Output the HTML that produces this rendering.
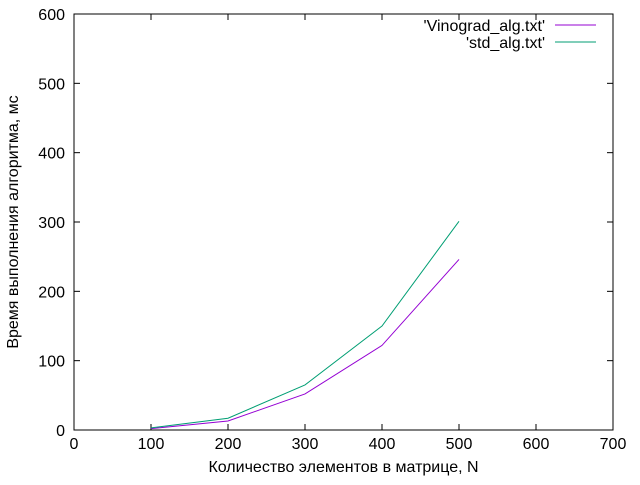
<!DOCTYPE html>
<html><head><meta charset="utf-8"><style>
body{margin:0;background:#fff}
svg text{font-family:"Liberation Sans",sans-serif;font-size:16px;fill:#000}
</style></head><body>
<svg id="chart" width="640" height="480" xmlns="http://www.w3.org/2000/svg"></svg>
<script>
const xTicks=[0,100,200,300,400,500,600,700];
const yTicks=[0,100,200,300,400,500,600];
const nValues=[100,200,300,400,500];
const vinogradValues=[2,13,52,122,246];
const stdValues=[3,17,65,150,301];
const L=74,R=613,T=14,B=430;
const sx=v=>L+(v-0)/700*(R-L);
const sy=v=>B-(v-0)/600*(B-T);
const svg=document.getElementById('chart');
const NS='http://www.w3.org/2000/svg';
function mk(tag,attrs,parent){const e=document.createElementNS(NS,tag);for(const k in attrs)e.setAttribute(k,attrs[k]);(parent||svg).appendChild(e);return e;}
const frame=mk('rect',{x:L,y:T,width:R-L,height:B-T,fill:'none',stroke:'#000','stroke-width':1});


xTicks.forEach(v=>{const x=sx(v);
 const t1=mk('line',{x1:x,y1:B,x2:x,y2:B-6,stroke:'#000'});
 
 
 const t2=mk('line',{x1:x,y1:T,x2:x,y2:T+6,stroke:'#000'});
 
 
 const tx=mk('text',{x:x,y:B+19,'text-anchor':'middle'});tx.textContent=v;
 
 
});
yTicks.forEach(v=>{const y=sy(v);
 const t1=mk('line',{x1:L,y1:y,x2:L+6,y2:y,stroke:'#000'});
 
 
 const t2=mk('line',{x1:R,y1:y,x2:R-6,y2:y,stroke:'#000'});
 
 
 const tx=mk('text',{x:L-9,y:y+6,'text-anchor':'end'});tx.textContent=v;
 
 
});
const xt=mk('text',{x:(L+R)/2,y:472,'text-anchor':'middle'});xt.textContent='Количество элементов в матрице, N';


const yt=mk('text',{x:0,y:0,'text-anchor':'middle',transform:'translate(18,222) rotate(-90)'});yt.textContent='Время выполнения алгоритма, мс';


function series(vals,color,name){
 const p=mk('polyline',{points:nValues.map((n,i)=>sx(n)+','+sy(vals[i])).join(' '),fill:'none',stroke:color,'stroke-width':1});
 
 
}
series(vinogradValues,'#9400d3','vinograd-line');
series(stdValues,'#009e73','std-line');
const lg=[["'Vinograd_alg.txt'",'#9400d3',25],["'std_alg.txt'",'#009e73',42]];
lg.forEach(([label,c,y],i)=>{
 const t=mk('text',{x:545,y:y+6,'text-anchor':'end'});t.textContent=label;
 
 
 const l=mk('line',{x1:555,y1:y,x2:596,y2:y,stroke:c});
 
 
});
</script>
</body></html>
